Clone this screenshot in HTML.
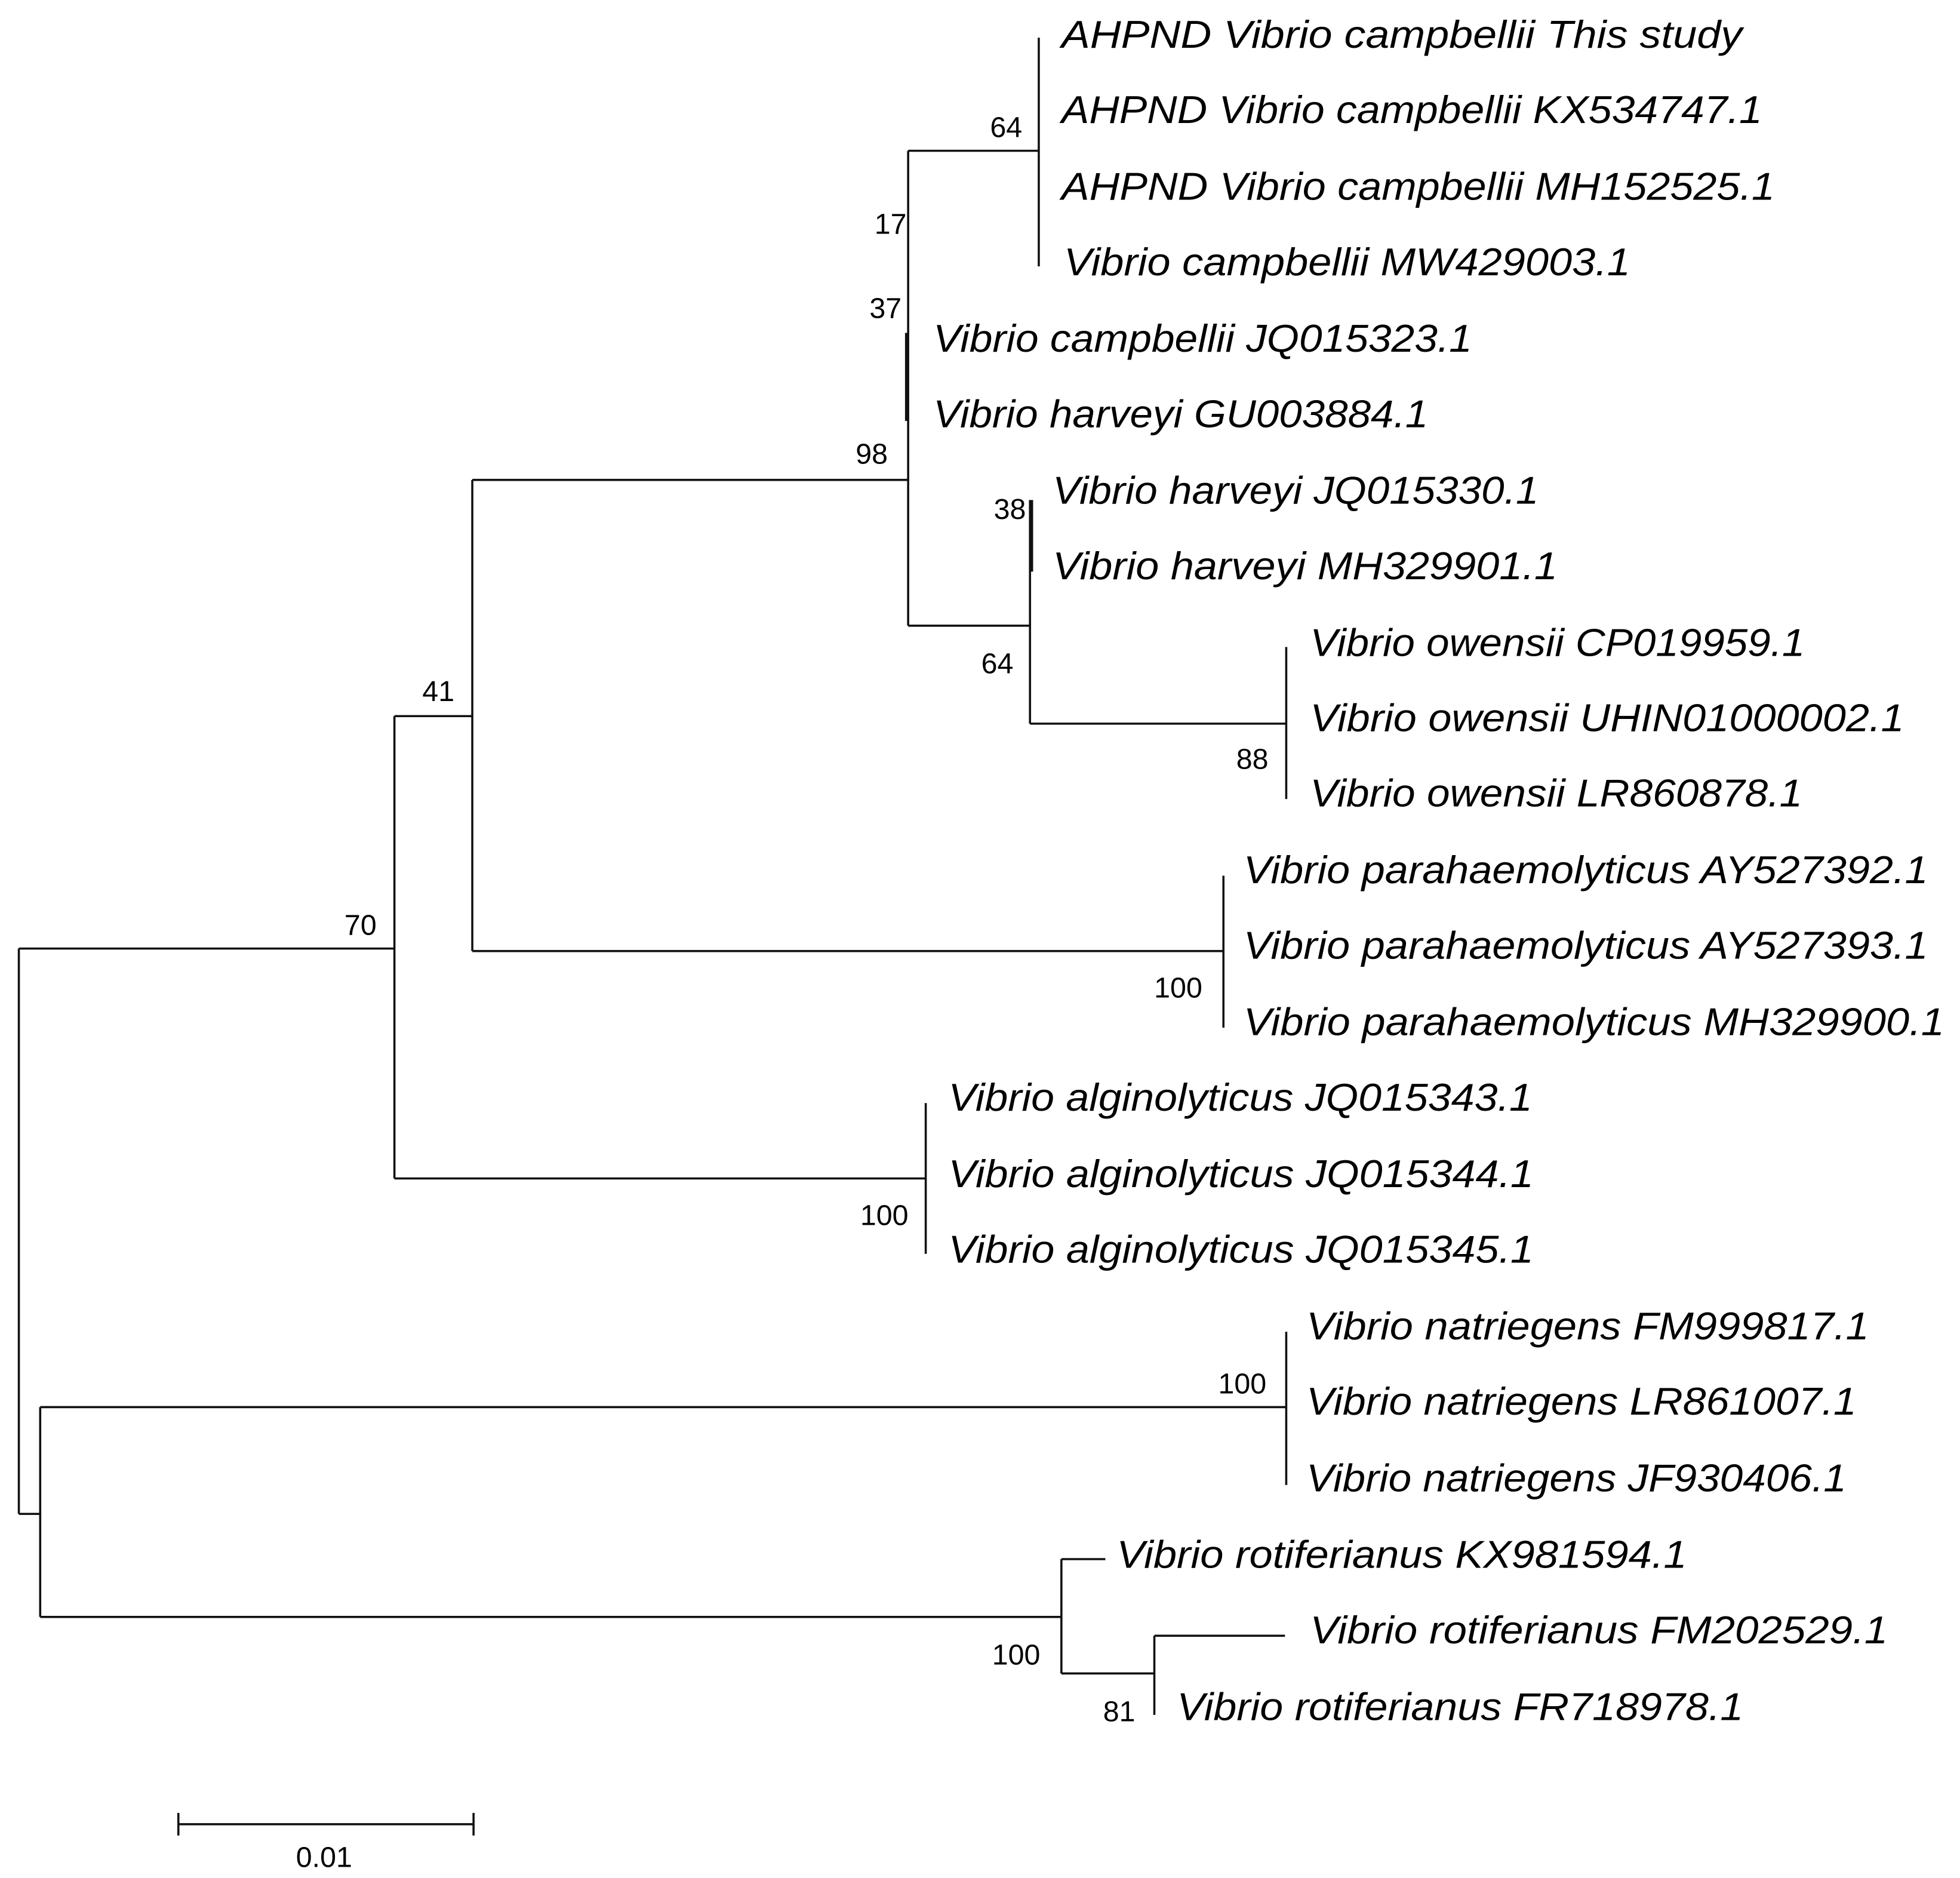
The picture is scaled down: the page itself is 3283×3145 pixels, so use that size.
<!DOCTYPE html>
<html><head><meta charset="utf-8"><style>
html,body{margin:0;padding:0;background:#fff;}
svg{display:block;}
text{font-family:"Liberation Sans",sans-serif;fill:#000;}
.l{font-style:italic;font-size:31px;}
.b{font-size:23px;text-anchor:middle;}
</style></head><body>
<svg width="3283" height="3145" viewBox="0 0 1560.4 1494.8" xmlns="http://www.w3.org/2000/svg">
<g stroke="#111" stroke-width="1.7" fill="none">
<path d="M15,755V1205M15,755H314M15,1205H32"/>
<path d="M314,570V938M314,570H376M314,938H737"/>
<path d="M376,382V757M376,382H723M376,757H974"/>
<path d="M723,120V498M723,120H827M723,498H820"/>
<path d="M827,30V212"/>
<path d="M820,398V576M820,576H1024"/>
<path d="M1024,515V636M974,697V818M737,878V998"/>
<path d="M32,1120V1287M32,1120H1024M32,1287H845M1024,1060V1182"/>
<path d="M845,1241V1332M845,1241H880M845,1332H919M919,1302V1365M919,1302H1023"/>
<path d="M142,1452H377M142,1443V1461M377,1443V1461"/>
</g>
<g stroke="#111" stroke-width="3" fill="none">
<path d="M722,265V335M821,398V455"/>
</g>
<g class="l">
<text x="845" y="38" textLength="542" lengthAdjust="spacingAndGlyphs">AHPND Vibrio campbellii This study</text>
<text x="845" y="98" textLength="558" lengthAdjust="spacingAndGlyphs">AHPND Vibrio campbellii KX534747.1</text>
<text x="845" y="159" textLength="568" lengthAdjust="spacingAndGlyphs">AHPND Vibrio campbellii MH152525.1</text>
<text x="847" y="219" textLength="451" lengthAdjust="spacingAndGlyphs">Vibrio campbellii MW429003.1</text>
<text x="743" y="280" textLength="429" lengthAdjust="spacingAndGlyphs">Vibrio campbellii JQ015323.1</text>
<text x="743" y="340" textLength="394" lengthAdjust="spacingAndGlyphs">Vibrio harveyi GU003884.1</text>
<text x="838" y="401" textLength="387" lengthAdjust="spacingAndGlyphs">Vibrio harveyi JQ015330.1</text>
<text x="838" y="461" textLength="402" lengthAdjust="spacingAndGlyphs">Vibrio harveyi MH329901.1</text>
<text x="1043" y="522" textLength="394" lengthAdjust="spacingAndGlyphs">Vibrio owensii CP019959.1</text>
<text x="1043" y="582" textLength="473" lengthAdjust="spacingAndGlyphs">Vibrio owensii UHIN01000002.1</text>
<text x="1043" y="642" textLength="392" lengthAdjust="spacingAndGlyphs">Vibrio owensii LR860878.1</text>
<text x="990" y="703" textLength="545" lengthAdjust="spacingAndGlyphs">Vibrio parahaemolyticus AY527392.1</text>
<text x="990" y="763" textLength="545" lengthAdjust="spacingAndGlyphs">Vibrio parahaemolyticus AY527393.1</text>
<text x="990" y="824" textLength="558" lengthAdjust="spacingAndGlyphs">Vibrio parahaemolyticus MH329900.1</text>
<text x="755" y="884" textLength="465" lengthAdjust="spacingAndGlyphs">Vibrio alginolyticus JQ015343.1</text>
<text x="755" y="945" textLength="466" lengthAdjust="spacingAndGlyphs">Vibrio alginolyticus JQ015344.1</text>
<text x="755" y="1005" textLength="466" lengthAdjust="spacingAndGlyphs">Vibrio alginolyticus JQ015345.1</text>
<text x="1040" y="1066" textLength="448" lengthAdjust="spacingAndGlyphs">Vibrio natriegens FM999817.1</text>
<text x="1040" y="1126" textLength="438" lengthAdjust="spacingAndGlyphs">Vibrio natriegens LR861007.1</text>
<text x="1040" y="1187" textLength="430" lengthAdjust="spacingAndGlyphs">Vibrio natriegens JF930406.1</text>
<text x="889" y="1248" textLength="454" lengthAdjust="spacingAndGlyphs">Vibrio rotiferianus KX981594.1</text>
<text x="1043" y="1308" textLength="460" lengthAdjust="spacingAndGlyphs">Vibrio rotiferianus FM202529.1</text>
<text x="937" y="1369" textLength="451" lengthAdjust="spacingAndGlyphs">Vibrio rotiferianus FR718978.1</text>
</g>
<g class="b">
<text x="801" y="109">64</text>
<text x="709" y="186">17</text>
<text x="705" y="253">37</text>
<text x="694" y="369">98</text>
<text x="804" y="413">38</text>
<text x="794" y="536">64</text>
<text x="997" y="612">88</text>
<text x="349" y="558">41</text>
<text x="287" y="744">70</text>
<text x="938" y="794">100</text>
<text x="704" y="975">100</text>
<text x="989" y="1109">100</text>
<text x="809" y="1325">100</text>
<text x="891" y="1370">81</text>
<text x="258" y="1486">0.01</text>
</g>
</svg>
</body></html>
